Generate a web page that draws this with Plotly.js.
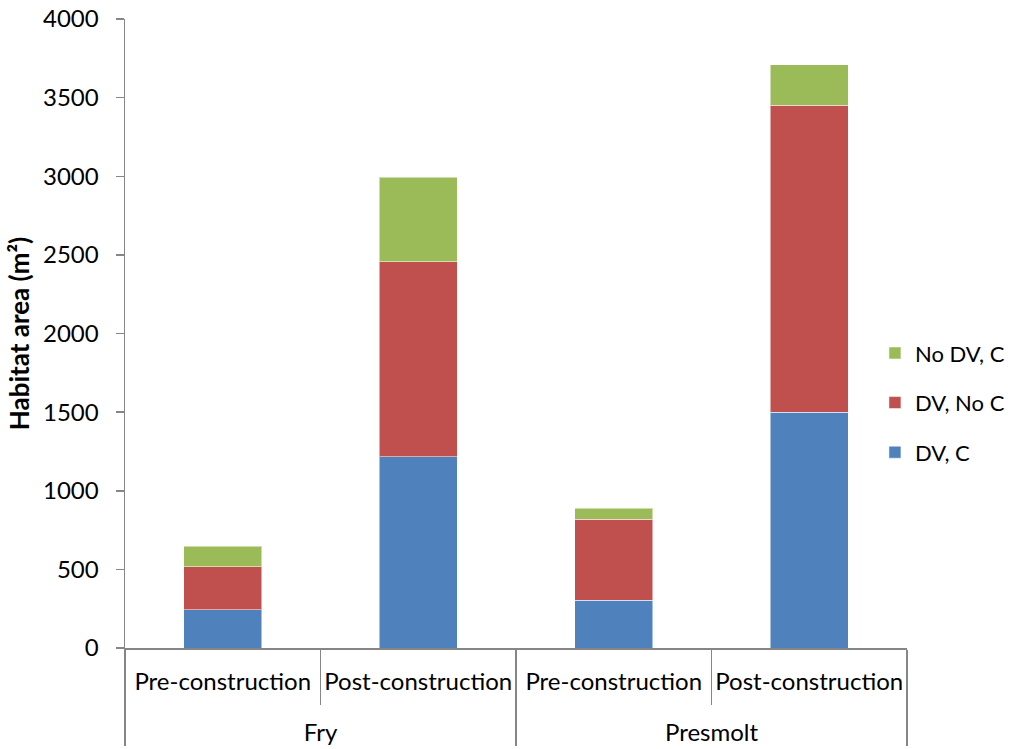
<!DOCTYPE html>
<html>
<head>
<meta charset="utf-8">
<script src="https://cdn.plot.ly/plotly-3.0.1.min.js"></script>
<style>html,body{margin:0;padding:0;background:#fff;}#chart{width:1014px;height:749px;}</style>
</head>
<body>
<div id="chart"></div>
<script>
const groups = ["Fry", "Fry", "Presmolt", "Presmolt"];
const phases = ["Pre-construction", "Post-construction", "Pre-construction", "Post-construction"];
const dvC = [242, 1217, 305, 1500];
const dvNoC = [275, 1238, 515, 1950];
const noDvC = [130, 540, 68, 258];
const yTicks = [0, 500, 1000, 1500, 2000, 2500, 3000, 3500, 4000];

const font = "Lato, 'Open Sans', sans-serif";
const x = [groups.map(g => "<br>" + g), phases];
const mk = (name, y, color, g, rank) => ({
  type: "bar", name: name, x: x, y: y, legendgroup: g, legendrank: rank,
  marker: {color: color, line: {color: "rgba(255,255,255,0.5)", width: 1}},
  hoverinfo: "y"
});
const data = [
  mk("DV, C", dvC, "#4f81bd", "a", 3),
  mk("DV, No C", dvNoC, "#c0504d", "b", 2),
  mk("No DV, C", noDvC, "#9bbb59", "c", 1)
];
const layout = {
  width: 1014, height: 749,
  margin: {l: 125, r: 107, t: 19, b: 101, autoexpand: false},
  paper_bgcolor: "#fff", plot_bgcolor: "#fff",
  font: {family: font, size: 24, color: "#000"},
  barmode: "stack", bargap: 0.6,
  showlegend: true,
  legend: {
    x: 0.959, xanchor: "left", y: 0.39, yanchor: "middle",
    traceorder: "grouped", tracegroupgap: 18,
    font: {family: font, size: 22, color: "#000"},
    bgcolor: "rgba(0,0,0,0)"
  },
  xaxis: {
    type: "multicategory",
    showline: true, linecolor: "#868686", linewidth: 1.5,
    ticks: "outside", ticklen: 55, tickcolor: "#868686", tickwidth: 1.5,
    showdividers: true, dividercolor: "#868686", dividerwidth: 1.5,
    tickangle: 0, ticklabelstandoff: 12,
    tickfont: {family: font, size: 24, color: "#000"},
    showgrid: false, zeroline: false
  },
  yaxis: {
    range: [0, 4000], tickvals: yTicks, ticktext: yTicks.map(String),
    showline: true, linecolor: "#868686", linewidth: 1.5,
    ticks: "outside", ticklen: 8, tickcolor: "#868686", tickwidth: 1.5,
    ticklabelstandoff: 12,
    showgrid: false, zeroline: false,
    tickfont: {family: font, size: 24, color: "#000"},
    title: {text: "<b>Habitat area (m²)</b>", font: {family: font, size: 26, color: "#000"}, standoff: 6}
  }
};
Plotly.newPlot("chart", data, layout, {displayModeBar: false, staticPlot: true});
</script>
</body>
</html>
